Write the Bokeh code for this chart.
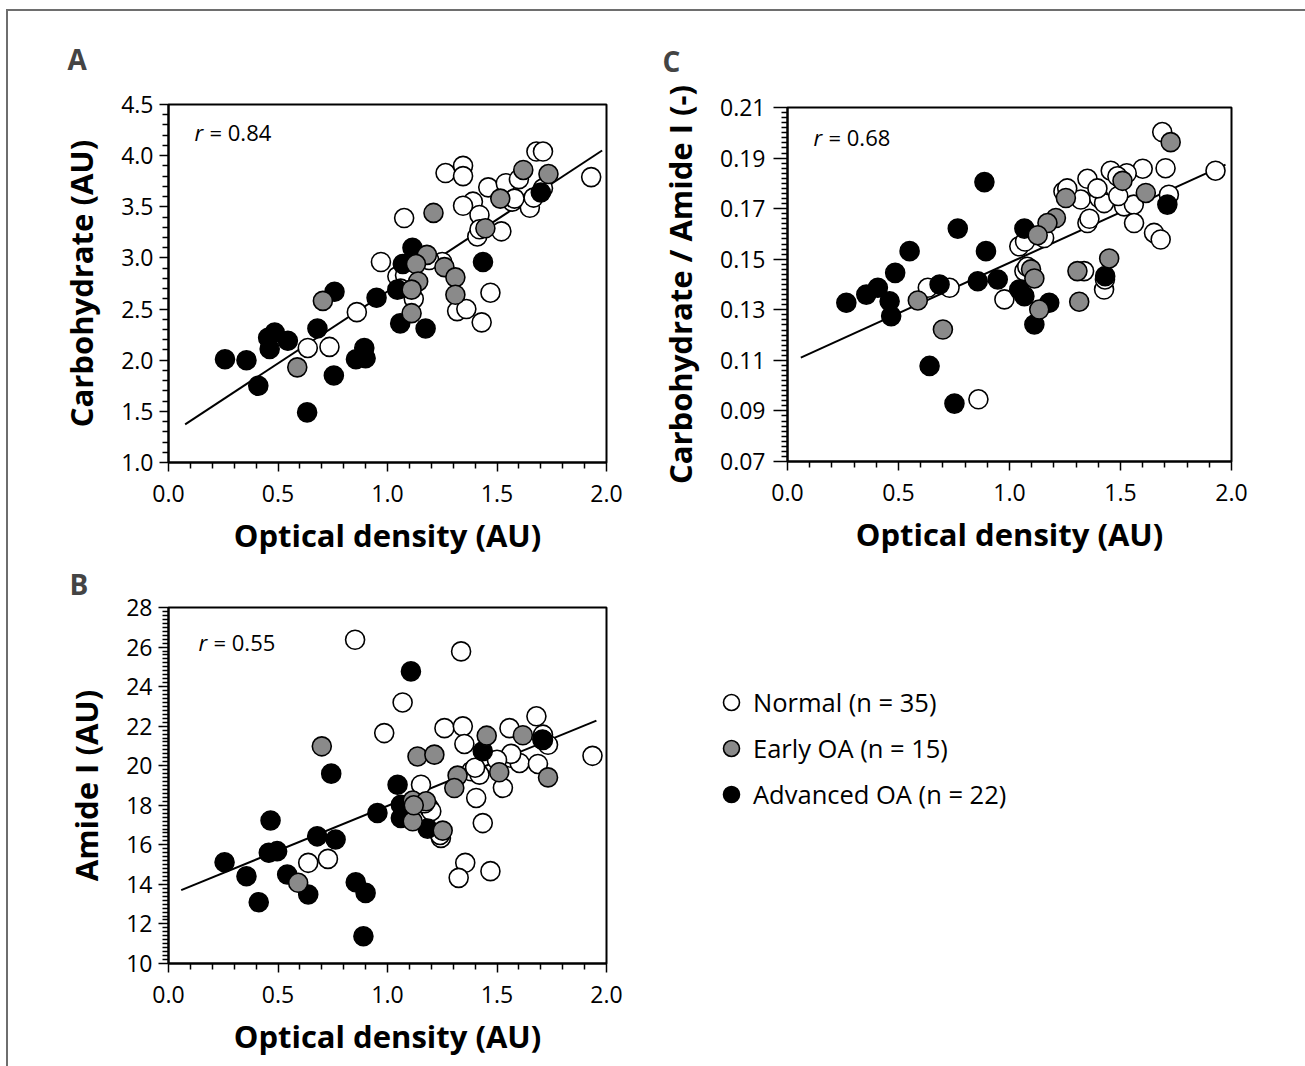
import numpy as np
from bokeh.plotting import figure
from bokeh.models import Range1d, Label, Legend, LegendItem, FixedTicker, PrintfTickFormatter, Spacer
from bokeh.layouts import row, column
from bokeh.embed import file_html
from bokeh.resources import INLINE

# ---------------- data ----------------
groups = ["Normal (n = 35)", "Early OA (n = 15)", "Advanced OA (n = 22)"]

# Panel A: Carbohydrate (AU) vs Optical density (AU)
A_normal_x = [1.68, 1.71, 1.265, 1.345, 1.345, 1.93, 1.46, 1.54, 1.60, 1.39, 1.345, 1.42, 1.57, 1.65,
              1.667, 1.076, 1.41, 1.52, 0.97, 1.25, 1.045, 1.47, 1.318, 1.36, 1.43, 0.86, 0.636, 0.735,
              1.19, 1.71, 1.58, 1.42, 1.08, 1.12, 1.06]
A_normal_y = [4.04, 4.04, 3.83, 3.90, 3.80, 3.79, 3.69, 3.73, 3.77, 3.55, 3.51, 3.42, 3.55, 3.49,
              3.59, 3.39, 3.21, 3.26, 2.96, 2.96, 2.82, 2.66, 2.48, 2.50, 2.37, 2.47, 2.12, 2.13,
              2.98, 3.68, 3.58, 3.28, 2.83, 2.60, 2.70]
A_early_x = [1.62, 1.735, 1.515, 1.21, 1.447, 1.18, 1.26, 1.31, 1.31, 1.13, 1.14, 1.11, 1.11, 0.705, 0.588]
A_early_y = [3.86, 3.82, 3.58, 3.44, 3.29, 3.03, 2.91, 2.81, 2.64, 2.94, 2.77, 2.69, 2.46, 2.58, 1.93]
A_adv_x = [1.70, 1.114, 1.07, 1.045, 1.436, 0.95, 0.758, 0.68, 0.485, 0.455, 0.545, 0.462, 0.258,
           0.356, 0.41, 0.755, 0.856, 0.894, 0.90, 0.633, 1.058, 1.174]
A_adv_y = [3.64, 3.10, 2.94, 2.69, 2.96, 2.61, 2.67, 2.31, 2.27, 2.22, 2.19, 2.11, 2.01,
           2.00, 1.75, 1.85, 2.01, 2.12, 2.02, 1.49, 2.36, 2.31]
A_fit_x = [0.076, 1.98]
A_fit_y = [1.373, 4.05]

# Panel B: Amide I (AU) vs Optical density (AU)
B_normal_x = [0.852, 1.336, 1.069, 0.985, 1.26, 1.344, 1.351, 1.557, 1.68, 1.71, 1.733, 1.936, 1.565, 1.603,
              1.687, 1.382, 1.42, 1.527, 1.153, 1.405, 1.19, 1.435, 1.244, 0.638, 0.728, 1.355, 1.325, 1.47,
              1.565, 1.20, 1.71, 1.40, 1.50, 1.24, 1.17]
B_normal_y = [26.37, 25.78, 23.2, 21.65, 21.9, 21.99, 21.1, 21.9, 22.5, 21.57, 21.06, 20.5, 20.4, 20.14,
              20.09, 19.72, 19.55, 18.88, 19.04, 18.37, 17.87, 17.1, 16.35, 15.09, 15.29, 15.09, 14.33, 14.67,
              20.6, 17.7, 21.3, 19.9, 20.3, 16.5, 18.1]
B_early_x = [0.70, 1.137, 1.214, 1.453, 1.618, 1.51, 1.733, 1.32, 1.305, 1.115, 1.176, 1.115, 1.252, 0.592, 1.12]
B_early_y = [20.98, 20.47, 20.56, 21.52, 21.54, 19.67, 19.41, 19.5, 18.87, 18.24, 18.2, 17.19, 16.72, 14.08, 18.0]
B_adv_x = [1.107, 0.743, 1.435, 1.707, 1.046, 0.954, 1.061, 1.061, 1.183, 0.466, 0.679, 0.763, 0.458,
           0.496, 0.256, 0.356, 0.542, 0.412, 0.638, 0.855, 0.90, 0.89]
B_adv_y = [24.77, 19.6, 20.73, 21.32, 19.04, 17.61, 18.03, 17.36, 16.82, 17.23, 16.43, 16.27, 15.6,
           15.68, 15.12, 14.41, 14.5, 13.1, 13.49, 14.11, 13.57, 11.38]
B_fit_x = [0.058, 1.954]
B_fit_y = [13.71, 22.28]

# Panel C: Carbohydrate / Amide I (-) vs Optical density (AU)
C_normal_x = [1.688, 1.703, 1.928, 1.456, 1.60, 1.528, 1.351, 1.243, 1.321, 1.404, 1.426, 1.516, 1.56, 1.718,
              1.351, 1.561, 1.651, 1.681, 1.044, 1.156, 1.067, 1.336, 1.426, 0.977, 0.632, 0.73, 0.86,
              1.396, 1.486, 1.36, 1.07, 1.26, 1.49, 1.08, 1.43]
C_normal_y = [0.2003, 0.186, 0.185, 0.185, 0.1858, 0.184, 0.1818, 0.1768, 0.1736, 0.1742, 0.1722, 0.1709, 0.1716, 0.1755,
              0.1643, 0.1643, 0.1604, 0.1578, 0.1551, 0.1584, 0.1453, 0.1453, 0.138, 0.1341, 0.1387, 0.1387, 0.0946,
              0.178, 0.1828, 0.166, 0.157, 0.178, 0.175, 0.147, 0.142]
C_early_x = [1.726, 1.509, 1.614, 1.254, 1.209, 1.171, 1.127, 1.449, 1.306, 1.097, 1.112, 1.134, 1.314, 0.587, 0.70]
C_early_y = [0.1963, 0.181, 0.1762, 0.1742, 0.1663, 0.1643, 0.1595, 0.1503, 0.1453, 0.146, 0.1424, 0.1301, 0.1332, 0.1337, 0.1222]
C_adv_x = [1.711, 0.887, 0.767, 1.067, 0.55, 0.894, 0.485, 0.685, 0.857, 0.947, 0.407, 0.355, 0.265,
           0.46, 0.467, 1.044, 1.067, 1.179, 1.112, 1.431, 0.64, 0.752]
C_adv_y = [0.1716, 0.1805, 0.1621, 0.1621, 0.1532, 0.1532, 0.1446, 0.14, 0.1413, 0.142, 0.1387, 0.136, 0.1328,
           0.1334, 0.1275, 0.138, 0.1354, 0.1328, 0.1242, 0.1433, 0.1078, 0.0929]
C_fit_x = [0.06, 1.973]
C_fit_y = [0.1111, 0.1874]

x_ticks = [0.0, 0.5, 1.0, 1.5, 2.0]
A_yticks = [1.0, 1.5, 2.0, 2.5, 3.0, 3.5, 4.0, 4.5]
B_yticks = [10, 12, 14, 16, 18, 20, 22, 24, 26, 28]
C_yticks = [0.07, 0.09, 0.11, 0.13, 0.15, 0.17, 0.19, 0.21]
r_values = {"A": "0.84", "B": "0.55", "C": "0.68"}

# ---------------- styling ----------------
FONT = "Open Sans"
FILLS = ["white", "#8a8a8a", "black"]
MSIZE = 19


def minor_list(ticks, n):
    out = []
    for a, b in zip(ticks[:-1], ticks[1:]):
        step = (b - a) / n
        out += [a + step * k for k in range(1, n)]
    return out


def panel(width, height, bl, br, bt, bb, yr, yticks, yminor_n, yfmt, ylabel, ytick_len, ylab_standoff,
          ytitle_standoff, series, fit, letter, letter_pos, rtxt, r_off):
    p = figure(width=width, height=height, x_range=Range1d(0, 2.0), y_range=Range1d(*yr),
               output_backend="svg", toolbar_location=None,
               min_border_left=bl, min_border_right=br, min_border_top=bt, min_border_bottom=bb)
    p.grid.visible = False
    p.outline_line_color = "black"
    p.outline_line_width = 2
    p.background_fill_color = "white"
    p.border_fill_color = "white"

    p.title.text = letter
    p.title.text_font = FONT
    p.title.text_font_size = "28px"
    p.title.text_font_style = "bold"
    p.title.align = "left"
    p.title.offset = letter_pos[0]
    p.title.standoff = letter_pos[1]

    p.xaxis.ticker = FixedTicker(ticks=x_ticks, minor_ticks=minor_list(x_ticks, 5))
    p.xaxis.formatter = PrintfTickFormatter(format="%.1f")
    p.yaxis.ticker = FixedTicker(ticks=yticks, minor_ticks=minor_list(yticks, yminor_n))
    p.yaxis.formatter = PrintfTickFormatter(format=yfmt)
    p.xaxis.axis_label = "Optical density (AU)"
    p.yaxis.axis_label = ylabel
    for ax in (p.xaxis[0], p.yaxis[0]):
        ax.axis_line_width = 2
        ax.axis_line_color = "black"
        ax.major_tick_line_width = 1.5
        ax.minor_tick_line_width = 1.5
        ax.major_tick_in = 0
        ax.minor_tick_in = 0
        ax.minor_tick_out = 6
        ax.major_label_text_font = FONT
        ax.major_label_text_font_size = "23px"
        ax.major_label_text_color = "black"
        ax.axis_label_text_font = FONT
        ax.axis_label_text_font_size = "31px"
        ax.axis_label_text_font_style = "bold"
        ax.axis_label_text_color = "black"
    p.xaxis.major_tick_out = 9
    p.xaxis.major_label_standoff = 13
    p.xaxis.axis_label_standoff = 9
    p.yaxis.major_tick_out = ytick_len
    p.yaxis.major_label_standoff = ylab_standoff
    p.yaxis.axis_label_standoff = ytitle_standoff

    p.line(fit[0], fit[1], line_color="black", line_width=2)
    # draw order: normal, advanced, early
    for gi in (0, 2, 1):
        xs, ys = series[gi]
        p.scatter(xs, ys, size=MSIZE, fill_color=FILLS[gi], line_color="black", line_width=1.6)

    x0, y1 = 0.0, yr[1]
    p.add_layout(Label(x=x0, y=y1, x_offset=r_off[0], y_offset=r_off[1], text="r",
                       text_font=FONT, text_font_size="22px", text_font_style="italic",
                       text_baseline="middle", text_color="black"))
    p.add_layout(Label(x=x0, y=y1, x_offset=r_off[0] + 15, y_offset=r_off[1], text="= " + rtxt,
                       text_font=FONT, text_font_size="22px",
                       text_baseline="middle", text_color="black"))
    return p


pA = panel(648, 547, 160, 50, 92, 96, (1.0, 4.5), A_yticks, 5, "%.1f", "Carbohydrate (AU)", 9, 6, 16,
           [(A_normal_x, A_normal_y), (A_early_x, A_early_y), (A_adv_x, A_adv_y)],
           (A_fit_x, A_fit_y), "A", (-101, 53), r_values["A"], (26, -27))
pB = panel(648, 510, 160, 50, 48, 105, (10, 28), B_yticks, 10, "%d", "Amide I (AU)", 10, 6, 16,
           [(B_normal_x, B_normal_y), (B_early_x, B_early_y), (B_adv_x, B_adv_y)],
           (B_fit_x, B_fit_y), "B", (-99, 9), r_values["B"], (30, -34))
pC = panel(649, 546, 130, 74, 95, 96, (0.07, 0.21), C_yticks, 10, "%.2f", "Carbohydrate / Amide I (-)", 14, 8, 16,
           [(C_normal_x, C_normal_y), (C_early_x, C_early_y), (C_adv_x, C_adv_y)],
           (C_fit_x, C_fit_y), "C", (-125, 56), r_values["C"], (26, -29))

# legend panel: renderers carry the panel-C data, drawn outside this panel's visible range
pL = figure(width=649, height=400, x_range=Range1d(-3, -2), y_range=Range1d(-3, -2),
            x_axis_type=None, y_axis_type=None, output_backend="svg", toolbar_location=None,
            min_border=0, outline_line_color=None)
pL.frame_align = False
pL.grid.visible = False
items = []
for gi, (name, (xs, ys)) in enumerate(zip(groups, [(C_normal_x, C_normal_y), (C_early_x, C_early_y),
                                                  (C_adv_x, C_adv_y)])):
    r = pL.scatter(xs, ys, size=16, fill_color=FILLS[gi], line_color="black", line_width=1.6)
    items.append(LegendItem(label=name, renderers=[r]))
leg = Legend(items=items, location=(55, 143), glyph_width=40, glyph_height=40, spacing=6,
             padding=0, margin=0, label_standoff=2, border_line_color=None,
             background_fill_alpha=0, label_text_font=FONT, label_text_font_size="25.5px",
             label_text_color="black")
pL.add_layout(leg)

inner = row(column(pA, pB), column(pC, pL),
            styles={"border-top": "2px solid #6e6e6e", "border-left": "2px solid #6e6e6e"})
layout = column(Spacer(height=9), row(Spacer(width=6), inner))

open("out.html", "w").write(file_html(layout, INLINE))
